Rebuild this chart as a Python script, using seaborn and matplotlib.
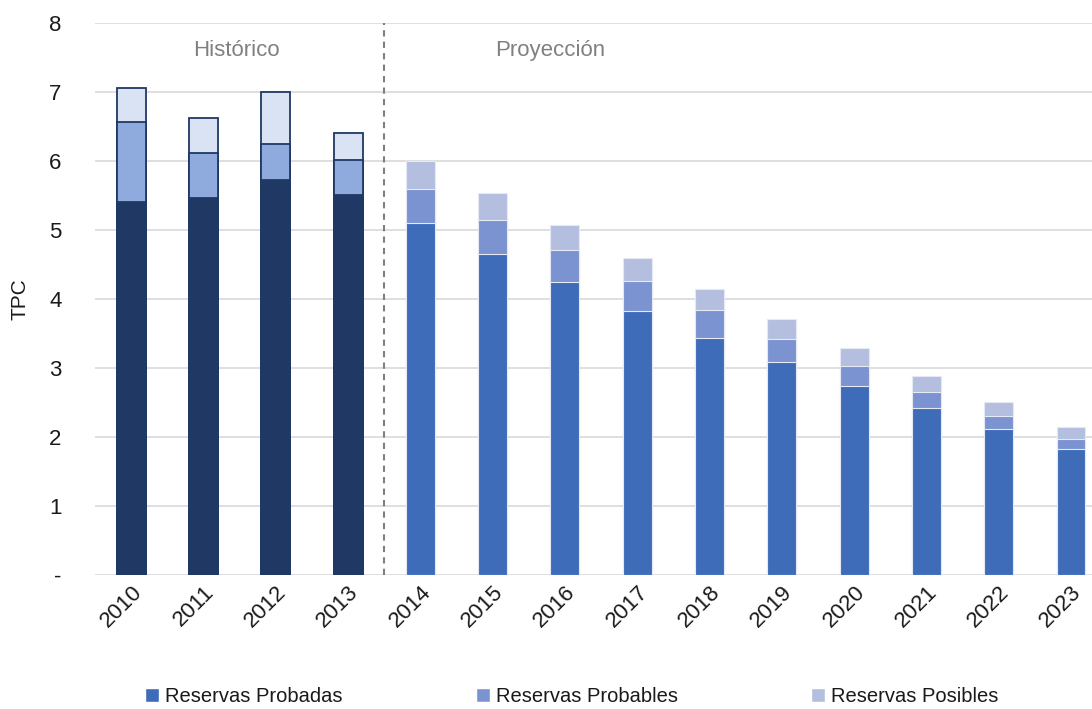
import matplotlib
matplotlib.use("Agg")
import matplotlib.pyplot as plt
import seaborn as sns
import pandas as pd
from matplotlib.patches import Patch

years = [str(y) for y in range(2010, 2024)]

probadas = [5.41, 5.47, 5.73, 5.51, 5.10, 4.65, 4.24, 3.83, 3.44, 3.08, 2.74, 2.42, 2.12, 1.83]
probables = [1.16, 0.65, 0.52, 0.50, 0.50, 0.49, 0.47, 0.43, 0.40, 0.34, 0.29, 0.23, 0.19, 0.14]
posibles = [0.49, 0.51, 0.75, 0.40, 0.40, 0.39, 0.36, 0.33, 0.30, 0.29, 0.26, 0.24, 0.20, 0.17]

legend_labels = ["Reservas Probadas", "Reservas Probables", "Reservas Posibles"]
y_ticks = [0, 1, 2, 3, 4, 5, 6, 7, 8]
y_ticklabels = ["-", "1", "2", "3", "4", "5", "6", "7", "8"]

df = pd.DataFrame({"year": years, "probadas": probadas,
                   "probables": probables, "posibles": posibles})
df["p2"] = df["probadas"] + df["probables"]
df["p3"] = df["p2"] + df["posibles"]
df["period"] = ["hist"] * 4 + ["proj"] * 10

sns.set_style("white")
plt.rcParams["font.family"] = ["Liberation Sans", "DejaVu Sans"]

hist_cols = ["#203864", "#8faadc", "#dae3f3"]
proj_cols = ["#3f6cb8", "#7b93d0", "#b4bfe0"]

fig = plt.figure(figsize=(10.92, 7.09), dpi=100)
ax = fig.add_axes([0.087, 0.189, 0.913, 0.7786])

#stack by overdrawing cumulative totals
for period, cols, ec, lw in [("hist", hist_cols, "#203864", 1.3), ("proj", proj_cols, "#e4e9f4", 0.8)]:
    sub = df[df.period == period]
    for col, c in zip(["p3", "p2", "probadas"], cols[::-1]):
        sns.barplot(data=sub, x="year", y=col, order=years, color=c, saturation=1,
                    width=0.4, edgecolor=ec, linewidth=lw, ax=ax, zorder=3)

ax.set_ylim(0, 8)
ax.set_xlim(-0.5, 13.29)
ax.set_yticks(y_ticks)
ax.set_yticklabels(y_ticklabels)
ax.yaxis.grid(True, color="#d9d9d9", linewidth=1.2, zorder=0)
ax.set_axisbelow(True)
for s in ax.spines.values():
    s.set_visible(False)
ax.tick_params(axis="both", length=0, labelsize=16, colors="#1a1a1a")
ax.tick_params(axis="y", pad=24)
ax.tick_params(axis="x", pad=5)
plt.setp(ax.get_xticklabels(), rotation=45, ha="right", rotation_mode="anchor")
ax.set_xlabel("")
ax.set_ylabel("TPC", fontsize=15, color="#1a1a1a", labelpad=14)

ax.axvline(3.5, color="#7f7f7f", linestyle=(0, (3, 2.5)), linewidth=1.5, zorder=4)
ax.text(1.45, 7.6, "Histórico", ha="center", va="center", fontsize=16, color="#808080")
ax.text(5.8, 7.6, "Proyección", ha="center", va="center", fontsize=16, color="#808080")

for x0, c, lab in zip([0.133, 0.436, 0.743], proj_cols, legend_labels):
    fig.legend([Patch(facecolor=c)], [lab], loc="center left", bbox_to_anchor=(x0, 0.017),
               frameon=False, fontsize=14.5, handlelength=0.7, handleheight=0.7,
               handletextpad=0.3, borderpad=0, borderaxespad=0, labelcolor="#1a1a1a")

fig.savefig("out.png", dpi=100)
